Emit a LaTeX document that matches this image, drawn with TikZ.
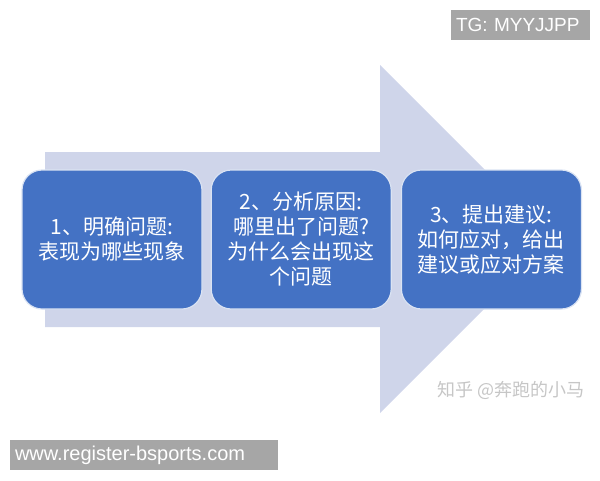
\documentclass[tikz,border=0pt]{standalone}
\usepackage{fontspec}
\setmainfont{Liberation Sans}
\newfontfamily\cjk{Noto Sans CJK SC}
\usepackage{tikz}
\usetikzlibrary{positioning}
\definecolor{boxblue}{HTML}{4472C4}
\definecolor{arrowfill}{HTML}{CFD5EA}
\definecolor{markgray}{HTML}{A6A6A6}
\tikzset{
x=1pt, y=-1pt, % one unit is one pixel of the picture, y runs downwards
node distance=8pt, % gap between the blue boxes
stage/.style={draw=white!80!boxblue, line width=1.2pt, fill=boxblue, rounded corners=20pt,
  minimum width=180pt, minimum height=139pt, text=white, align=center,
  font=\cjk\fontsize{21pt}{25pt}\selectfont}, % the three blue steps
tag/.style={fill=markgray, text=white, minimum height=30pt, inner xsep=5pt, align=left}, % grey labels
}

\begin{document}
\begin{tikzpicture}
                \useasboundingbox (0,0) rectangle (600,480);

                % the big arrow behind the steps
                \fill[arrowfill] (45,152) -- (380,152) -- (380,65) -- (554,239)
                    -- (380,413) -- (380,327) -- (45,327) -- cycle;

                \node[stage] (s1) at (112,239.5) {1、明确问题:\\表现为哪些现象};
                \node[stage, right=of s1] (s2) {2、分析原因:\\哪里出了问题?\\为什么会出现这\\个问题};
                \node[stage, right=9pt of s2] (s3) {3、提出建议:\\如何应对，给出\\建议或应对方案};

                \node[tag, text width=129pt, font=\fontsize{19pt}{22pt}\selectfont] (tg) at (520.5,25) {TG: MYYJJPP};
                \node[tag, text width=258pt, font=\fontsize{20pt}{23pt}\selectfont] (web) at (144,455) {www.register-bsports.com};
                \node[text=gray!45, font=\cjk\fontsize{18pt}{20pt}\selectfont] (zhihu) at (511,390) {知乎 @奔跑的小马};
            \end{tikzpicture}
\end{document}
